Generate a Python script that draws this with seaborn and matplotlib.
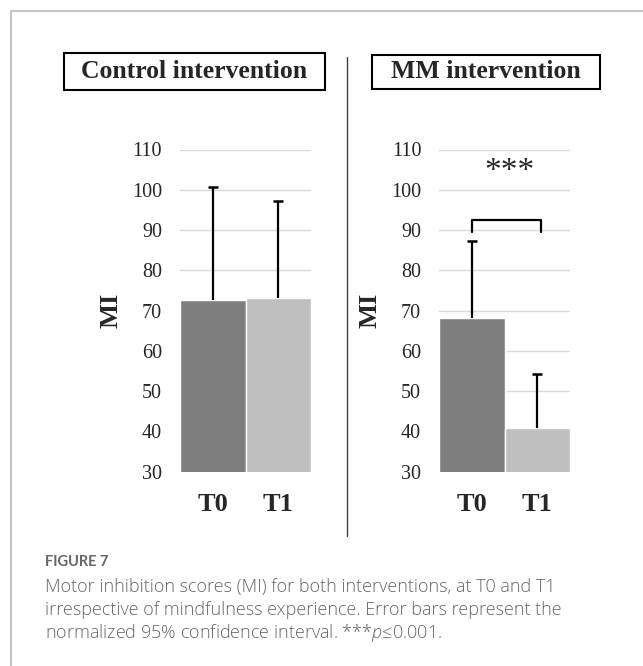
import numpy as np
import matplotlib
matplotlib.use("Agg")
import matplotlib.pyplot as plt
from matplotlib.patches import Rectangle
from matplotlib.lines import Line2D
import seaborn as sns

# data
times = ["T0", "T1"]
control_means = [72.6, 73.2]
control_upper = [100.6, 97.1]
mm_means = [68.1, 40.9]
mm_upper = [87.4, 54.2]
bar_colors = ["#7f7f7f", "#bfbfbf"]
y_ticks = [30, 40, 50, 60, 70, 80, 90, 100, 110]

sns.set_style("white")
plt.rcParams['font.family'] = ['Liberation Serif', 'DejaVu Serif']
plt.rcParams['mathtext.fontset'] = 'custom'
plt.rcParams['mathtext.it'] = 'Open Sans:italic:light'
plt.rcParams['mathtext.rm'] = 'Open Sans'

W, H = 643, 666
fig = plt.figure(figsize=(W / 100, H / 100), dpi=100)


def px_axes(x0, x1, y_top, y_bot):
    return fig.add_axes([x0 / W, 1 - y_bot / H, (x1 - x0) / W, (y_bot - y_top) / H])


def draw_panel(ax, means, upper):
    for t in y_ticks[1:]:
        ax.axhline(t, color="#d9d9d9", lw=1, zorder=0)
    sns.barplot(x=times, y=means, hue=times, palette=bar_colors, width=1.0,
                errorbar=None, legend=False, saturation=1, ax=ax, zorder=2)
    # one-sided error bars (upper only)
    err = np.array(upper) - np.array(means)
    ax.errorbar([0, 1], means, yerr=[np.zeros(2), err], fmt='none',
                ecolor='black', elinewidth=1.6, capsize=0, zorder=3)
    ax.plot([0, 1], upper, ls='none', marker='_', ms=7, mew=1.8, color='black', zorder=3)
    ax.set_ylim(30, 110)
    ax.set_xlim(-0.5, 1.5)
    ax.set_yticks(y_ticks)
    ax.set_yticklabels([str(t) for t in y_ticks], fontsize=14.5)
    ax.tick_params(axis='both', length=0)
    ax.tick_params(axis='y', pad=13)
    ax.tick_params(axis='x', pad=15)
    for lab in ax.get_xticklabels():
        lab.set_fontsize(19)
        lab.set_fontweight('bold')
    ax.set_ylabel('MI', fontsize=19, fontweight='bold', labelpad=7)
    ax.set_xlabel('')
    for s in ax.spines.values():
        s.set_visible(False)
    ax.patch.set_alpha(0)


ax1 = px_axes(180, 311, 149.5, 471.7)
draw_panel(ax1, control_means, control_upper)

ax2 = px_axes(439.3, 570, 149.5, 471.7)
draw_panel(ax2, mm_means, mm_upper)

# significance bracket
ax2.plot([0, 0, 1.05, 1.05], [89.5, 92.4, 92.4, 89.5], color='black', lw=1.6,
         solid_joinstyle='round', clip_on=False, zorder=4)
ax2.text(0.58, 104.5, '***', ha='center', va='center', fontsize=24)

# boxed titles
for (x0, x1, y0, y1, label) in [(64, 325, 53, 90, "Control intervention"),
                                 (372, 600, 55, 89, "MM intervention")]:
    fig.add_artist(Rectangle((x0 / W, 1 - y1 / H), (x1 - x0) / W, (y1 - y0) / H,
                             transform=fig.transFigure, fill=False, ec='black', lw=1.5))
    fig.text((x0 + x1) / 2 / W, 1 - (y0 + y1) / 2 / H, label, ha='center', va='center',
             fontsize=18.5, fontweight='bold')

# divider and frame
fig.add_artist(Line2D([347 / W, 347 / W], [1 - 57 / H, 1 - 536 / H],
                      transform=fig.transFigure, color='#404040', lw=1))
fig.add_artist(Line2D([11 / W, 11 / W, 1], [0, 1 - 11 / H, 1 - 11 / H],
                      transform=fig.transFigure, color='#c4c4c4', lw=1.5))

# caption
fig.text(45 / W, 1 - 562 / H, "FIGURE 7", family=['Lato', 'DejaVu Sans'], fontsize=10.5,
         fontweight='bold', color='#666666', va='center')
cap = ['Open Sans', 'DejaVu Sans']
lines = ["Motor inhibition scores (MI) for both interventions, at T0 and T1",
         "irrespective of mindfulness experience. Error bars represent the",
         "normalized 95% confidence interval. ***$p$≤0.001."]
for y, txt in zip([587, 610, 633], lines):
    fig.text(45 / W, 1 - y / H, txt, family=cap, fontsize=13, fontweight='light',
             color='#666666', va='center')

fig.savefig("out.png", dpi=100)
